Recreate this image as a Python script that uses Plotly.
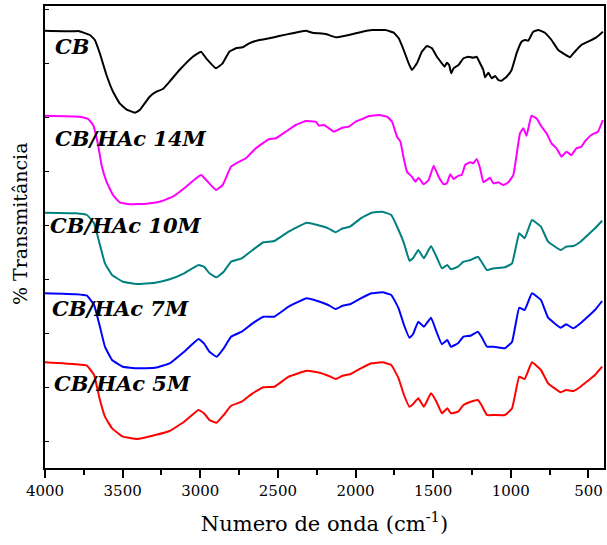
import plotly.graph_objects as go

# ---- CB (black) ----
wn_cb = [4000, 3818, 3786, 3711, 3679, 3647, 3604, 3562, 3519, 3476, 3422, 3390, 3326, 3283, 3241,
         3198, 3134, 3048, 2995, 2962, 2898, 2856, 2813, 2770, 2728, 2685, 2620, 2556, 2492, 2407,
         2321, 2278, 2235, 2192, 2128, 2043, 1957, 1893, 1807, 1754, 1722, 1690, 1658, 1637, 1605,
         1573, 1540, 1508, 1476, 1444, 1427, 1412, 1397, 1384, 1369, 1337, 1305, 1273, 1241, 1220,
         1198, 1177, 1166, 1145, 1123, 1101, 1080, 1059, 1027, 995, 963, 931, 909, 888, 856,
         824, 781, 738, 695, 653, 620, 588, 546, 503, 449, 407]
t_cb = [437.3, 436.7, 437, 433, 428, 414.7, 393, 376.3, 364.7, 358.7, 355.3, 358, 371.3, 376.3, 379,
        386.3, 398, 411.3, 416.3, 409.7, 399.7, 404.7, 416.3, 419.7, 420.7, 424.7, 428, 429.7, 432, 434.7,
        437.3, 435.3, 434.7, 434, 430.7, 433, 436.3, 438, 438, 435.3, 429.7, 418, 404.7, 398, 404.7,
        416.3, 422, 419.7, 411.3, 404.7, 401.3, 405.3, 403, 394.7, 399.7, 403, 409.7, 411.3, 410.3, 411.3,
        404.7, 398, 390.7, 395.3, 389.7, 392, 388, 387.3, 391.3, 398, 414.7, 426.3, 428, 427.3, 436.3,
        438, 435.3, 428, 418, 413.7, 410.7, 416.3, 423, 426.3, 430.7, 436.3]

# ---- CB/HAc 14M (magenta) ----
wn_14 = [4000, 3775, 3722, 3690, 3658, 3636, 3604, 3562, 3519, 3455, 3347, 3262, 3177, 3091, 3027,
         2994, 2962, 2898, 2856, 2802, 2749, 2706, 2642, 2556, 2513, 2449, 2385, 2321, 2257, 2235,
         2203, 2171, 2139, 2086, 2043, 2000, 1957, 1914, 1850, 1797, 1765, 1733, 1711, 1690, 1669,
         1637, 1615, 1594, 1562, 1529, 1497, 1465, 1433, 1412, 1390, 1369, 1337, 1316, 1294, 1262,
         1241, 1220, 1198, 1177, 1155, 1134, 1112, 1080, 1048, 1016, 984, 963, 941, 920, 899,
         867, 835, 802, 770, 738, 706, 674, 642, 610, 578, 546, 524, 482, 439, 407]
t_14 = [352.3, 351.3, 349, 343, 323, 303, 286.3, 273, 265.7, 263.7, 264.3, 266.3, 271.3, 281.3, 289.7,
        293, 288, 278, 283, 301.3, 306.3, 309.7, 319.7, 329, 329.7, 336.3, 343, 347, 346.3, 342.3,
        343, 339.7, 336.3, 340.3, 341.3, 346.3, 349, 352, 353, 351.3, 346.3, 331.3, 326.3, 309.7, 296.3,
        291.3, 286.3, 290.3, 283.7, 288, 302.3, 291.3, 283.7, 284.7, 293.7, 289, 292.3, 293, 303, 305.7,
        304.7, 309, 299.7, 285.7, 288, 290.3, 284.7, 285.7, 283, 285.7, 293, 313, 334.7, 339.7, 332.3,
        352.3, 349.7, 341.3, 334.7, 324.7, 319.7, 311.3, 316.3, 313, 319.7, 321.3, 326.3, 333, 336.3, 348]

# ---- shared wavenumber grid for 10M, 7M, 5M ----
wn_hac = [4000, 3800, 3730, 3684, 3649, 3614, 3568, 3498, 3406, 3290, 3197, 3104, 3011, 2976, 2941,
          2895, 2849, 2802, 2733, 2663, 2593, 2523, 2431, 2315, 2245, 2176, 2129, 2083, 2036, 1966,
          1897, 1827, 1770, 1723, 1688, 1653, 1630, 1596, 1560, 1514, 1479, 1444, 1409, 1386, 1340,
          1305, 1259, 1212, 1189, 1154, 1108, 1038, 992, 946, 911, 864, 806, 760, 679, 644,
          597, 551, 505, 458, 412]
t_10 = [255.3, 254.7, 253, 244.7, 224.7, 204.7, 193, 186.3, 184, 185.3, 188.7, 194.7, 203, 201.3, 194.7,
        190.7, 196.3, 206.3, 209.7, 218, 225.7, 227, 236.3, 245.3, 243, 239.7, 235.7, 239.7, 241.3, 249.7,
        255.3, 256.3, 253, 238, 224.7, 207.3, 209.7, 218, 209.7, 222, 211.3, 199.7, 203, 198.7, 201.3,
        206.3, 208, 211.3, 206.3, 198, 199.7, 200.7, 204.7, 234.7, 229.7, 248, 241.3, 226.3, 218, 221.3,
        222, 226.3, 233, 239.7, 247.3]
t_7 = [174.7, 173.7, 172.3, 163, 143, 121.3, 108, 101.3, 99.7, 100.3, 104.7, 116.3, 129, 124.7, 116.3,
       111.3, 119.7, 131.3, 136.3, 144.7, 151.3, 151.3, 161.3, 169.7, 167, 163, 159, 162.3, 163.7, 169.7,
       174.7, 175.7, 173, 159.7, 143, 130.3, 133.7, 146.3, 141.3, 150.3, 136.3, 123.7, 128, 121.3, 124.7,
       131.3, 132.3, 136.3, 131.3, 121.3, 121.3, 119.7, 126.3, 160.3, 158, 174.7, 168, 150.3, 140.3, 143.7,
       139.7, 144.7, 151.3, 158, 167]
t_5 = [105.7, 103.7, 102.3, 93, 69.7, 51.3, 39.7, 31.3, 29, 33, 37, 46.3, 58, 54.7, 48,
       45.3, 53, 62.3, 66.3, 74.7, 80.7, 81.3, 91.3, 97.3, 95.7, 92.3, 89, 92.3, 93.7, 99.7,
       104.7, 105.7, 103, 89.7, 73, 61.3, 63.7, 69.7, 61.3, 74.7, 66.3, 54.7, 59.7, 54.7, 56.3,
       63, 66.3, 68, 63, 53, 53, 53, 59.7, 91.3, 89, 105.7, 98, 84.7, 75.7, 78,
       77, 81.3, 87, 93, 101.3]

labels = ["CB", "CB/HAc 14M", "CB/HAc 10M", "CB/HAc 7M", "CB/HAc 5M"]
colors = ["#000000", "#ff00ff", "#008080", "#0000ff", "#ff0000"]
label_wn = [3950, 3950, 3982, 3970, 3958]
label_t = [422, 330, 243, 160, 85]

series = [(wn_cb, t_cb), (wn_14, t_14), (wn_hac, t_10), (wn_hac, t_7), (wn_hac, t_5)]

fig = go.Figure()
for (x, y), name, c in zip(series, labels, colors):
    fig.add_trace(go.Scatter(x=x, y=y, mode="lines", name=name,
                             line=dict(color=c, width=2, shape="spline", smoothing=0.3)))

for name, xw, yt in zip(labels, label_wn, label_t):
    fig.add_annotation(x=xw, y=yt, text="<b><i>" + name + "</i></b>", showarrow=False,
                       xanchor="left", yanchor="middle",
                       font=dict(family="DejaVu Serif", size=21, color="black"))

fig.add_annotation(x=-0.045, y=0.53, xref="paper", yref="paper", text="% Transmitância",
                   textangle=-90, showarrow=False, xanchor="center", yanchor="middle",
                   font=dict(family="DejaVu Serif", size=19, color="black"))

fig.update_layout(
    width=607, height=545,
    margin=dict(l=45, r=1, t=6, b=77),
    paper_bgcolor="white", plot_bgcolor="white",
    showlegend=False,
    font=dict(family="DejaVu Serif", color="black"),
)
fig.update_xaxes(
    range=[4000, 400], autorange=False,
    tickvals=[4000, 3500, 3000, 2500, 2000, 1500, 1000, 500],
    ticks="outside", ticklen=8, tickwidth=1.5, tickcolor="black",
    minor=dict(tickvals=[3750, 3250, 2750, 2250, 1750, 1250, 750], ticks="outside",
               ticklen=5, tickwidth=1.5, tickcolor="black", showgrid=False),
    showline=True, linecolor="black", linewidth=2, mirror=True,
    showgrid=False, zeroline=False,
    tickfont=dict(family="DejaVu Serif", size=15, color="black"),
    title=dict(text="Numero de onda (cm<sup>-1</sup>)", standoff=17,
               font=dict(family="DejaVu Serif", size=21, color="black")),
)
fig.update_yaxes(
    range=[0, 462], autorange=False,
    showticklabels=False,
    tickvals=[27, 81, 135, 189, 243, 297, 351, 405, 459],
    ticks="inside", ticklen=4, tickcolor="black",
    showline=True, linecolor="black", linewidth=2, mirror=True,
    showgrid=False, zeroline=False,
)

fig.write_html("out.html")
